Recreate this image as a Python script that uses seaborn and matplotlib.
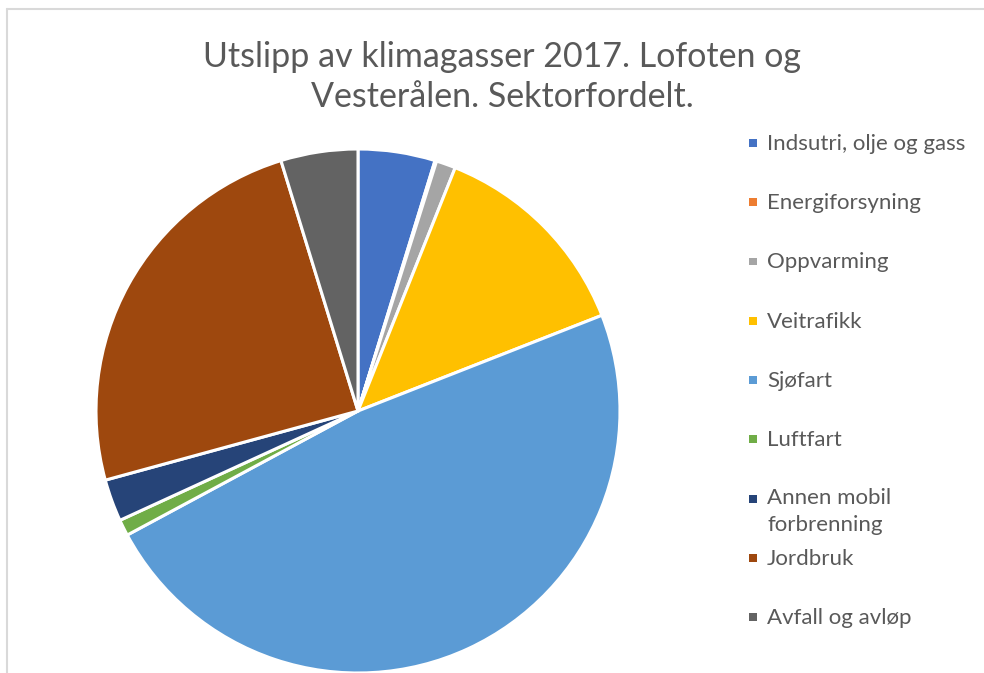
import matplotlib
matplotlib.use("Agg")
import matplotlib.pyplot as plt
from matplotlib.patches import Rectangle
from matplotlib.lines import Line2D
import seaborn as sns

# ---- data ----
sectors = ["Indsutri, olje og gass", "Energiforsyning", "Oppvarming", "Veitrafikk",
           "Sjøfart", "Luftfart", "Annen mobil\nforbrenning", "Jordbruk", "Avfall og avløp"]
shares = [4.75, 0.1, 1.2, 13.0, 48.1, 1.0, 2.6, 24.5, 4.75]
colors = ["#4472C4", "#ED7D31", "#A5A5A5", "#FFC000", "#5B9BD5",
          "#70AD47", "#264478", "#9E480E", "#636363"]
title = "Utslipp av klimagasser 2017. Lofoten og\nVesterålen. Sektorfordelt."

sns.set_theme(style="white")
plt.rcParams['font.family'] = ['Lato', 'DejaVu Sans']
palette = sns.color_palette(colors)

W, H = 984, 673
fig = plt.figure(figsize=(W / 100, H / 100), dpi=100)

# frame lines
fig.add_artist(Line2D([6.5 / W, 6.5 / W], [0, 1 - 9 / H], transform=fig.transFigure,
                      color="#D9D9D9", lw=1.5))
fig.add_artist(Line2D([6.5 / W, 1], [1 - 9 / H, 1 - 9 / H], transform=fig.transFigure,
                      color="#D9D9D9", lw=1.5))

cx, cy, r = 358, 411, 262
ax = fig.add_axes([(cx - r) / W, (H - cy - r) / H, 2 * r / W, 2 * r / H])
wedges, _ = ax.pie(shares, colors=palette, startangle=90, counterclock=False,
                   radius=1.0, wedgeprops=dict(edgecolor="white", linewidth=2.2))
ax.set_xlim(-1, 1)
ax.set_ylim(-1, 1)
ax.set_aspect("equal")
ax.axis("off")

fig.text(502 / W, 1 - 77 / H, title, ha="center", va="center", fontsize=24.5,
         color="#595959", linespacing=1.33)

# legend
y0, dy = 143, 59.25
for i, (lab, col) in enumerate(zip(sectors, palette)):
    y = y0 + i * dy
    fig.add_artist(Rectangle(((749) / W, 1 - (y + 4) / H), 8 / W, 8 / H,
                             transform=fig.transFigure, facecolor=col, edgecolor="none"))
    if "\n" in lab:
        fig.text(767 / W, 1 - (y - 11) / H, lab, ha="left", va="top",
                 fontsize=16, color="#595959", linespacing=1.45)
    else:
        fig.text(767 / W, 1 - (y + 1) / H, lab, ha="left", va="center",
                 fontsize=16, color="#595959")

fig.savefig("out.png", dpi=100)
